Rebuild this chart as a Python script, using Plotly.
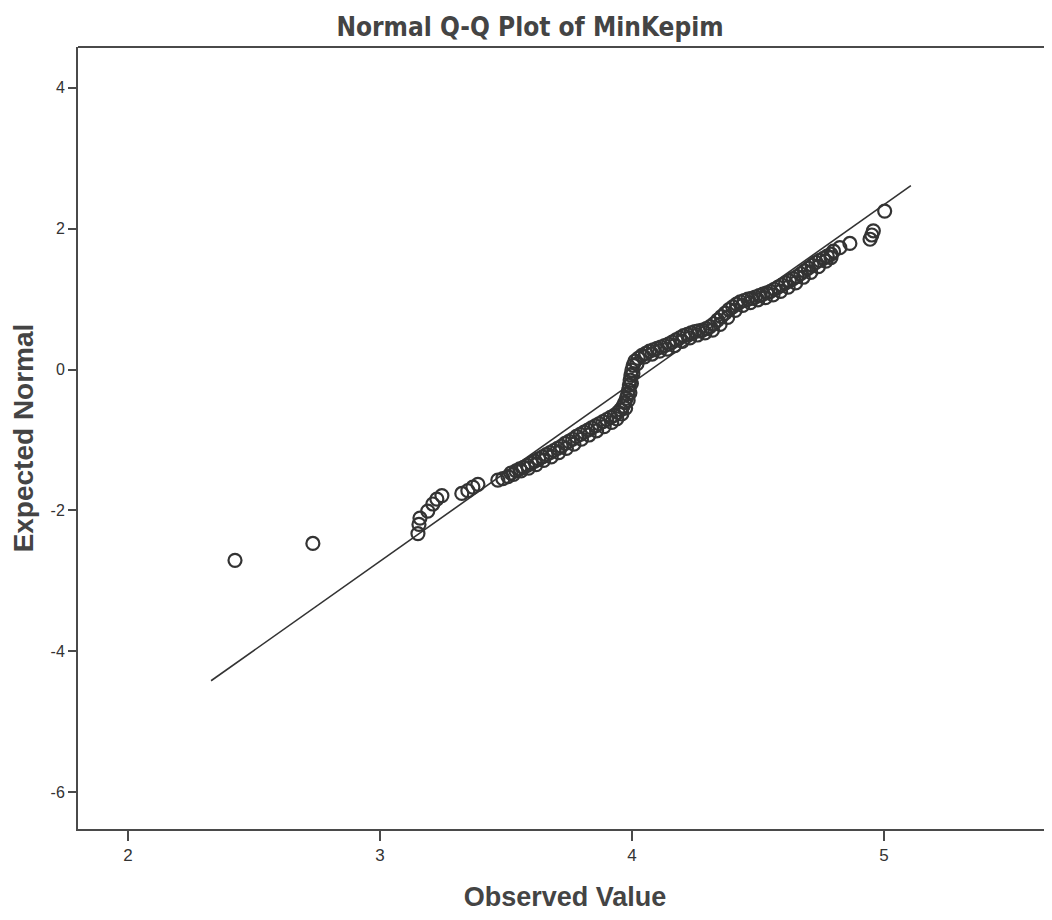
import plotly.graph_objects as go

observed = [
    2.425, 2.734,
    3.151, 3.155, 3.159, 3.190, 3.210, 3.226, 3.246,
    3.325, 3.349, 3.369, 3.389,
    3.468, 3.488, 3.508,
    3.520, 3.540, 3.555, 3.570, 3.585, 3.600, 3.615, 3.630, 3.645, 3.660,
    3.675, 3.690, 3.705, 3.720, 3.735, 3.750, 3.765, 3.780, 3.795, 3.810,
    3.825, 3.840, 3.855, 3.870, 3.885, 3.900, 3.915, 3.930, 3.945,
    3.955, 3.965, 3.972, 3.978, 3.983, 3.987, 3.990, 3.993, 3.996, 4.000,
    4.005, 4.012,
    4.025, 4.040, 4.055, 4.070, 4.085, 4.100, 4.115, 4.130, 4.145, 4.160,
    4.175, 4.190, 4.205, 4.220, 4.235, 4.250, 4.265, 4.280, 4.295,
    4.310, 4.325, 4.340, 4.355, 4.370, 4.385, 4.400, 4.415, 4.430, 4.445,
    4.460, 4.475, 4.490, 4.505, 4.520,
    4.535, 4.550, 4.565, 4.580, 4.595, 4.610, 4.625, 4.640, 4.655, 4.670,
    4.685, 4.700, 4.715, 4.730, 4.745, 4.760, 4.775, 4.790, 4.800, 4.825,
    4.865, 4.945, 4.952, 4.958, 5.003,
    3.530, 3.560, 3.590, 3.620, 3.650, 3.680, 3.710, 3.740, 3.770, 3.800,
    3.830, 3.860, 3.890, 3.920, 3.940, 3.960, 3.975, 3.985, 3.992, 3.998,
    4.004, 4.020, 4.050, 4.080, 4.110, 4.140, 4.170, 4.200, 4.230, 4.260,
    4.290, 4.320, 4.350, 4.380, 4.410, 4.440, 4.470, 4.500, 4.530, 4.560,
    4.590, 4.620, 4.650, 4.680, 4.710, 4.740, 4.770, 4.790,
]
expected = [
    -2.71, -2.47,
    -2.33, -2.20, -2.11, -2.01, -1.91, -1.84, -1.79,
    -1.76, -1.72, -1.67, -1.63,
    -1.57, -1.55, -1.52,
    -1.47, -1.44, -1.41, -1.39, -1.36, -1.33, -1.30, -1.27, -1.24, -1.21,
    -1.18, -1.15, -1.12, -1.09, -1.05, -1.02, -0.99, -0.95, -0.92, -0.89,
    -0.86, -0.83, -0.80, -0.77, -0.74, -0.71, -0.68, -0.65, -0.61,
    -0.57, -0.52, -0.47, -0.41, -0.35, -0.29, -0.22, -0.15, -0.08, -0.01,
    0.06, 0.12,
    0.16, 0.20, 0.23, 0.26, 0.28, 0.30, 0.32, 0.34, 0.36, 0.39,
    0.42, 0.45, 0.48, 0.50, 0.52, 0.54, 0.55, 0.56, 0.58,
    0.61, 0.65, 0.70, 0.75, 0.80, 0.85, 0.89, 0.93, 0.96, 0.98,
    1.00, 1.01, 1.03, 1.05, 1.07,
    1.09, 1.11, 1.14, 1.17, 1.20, 1.23, 1.26, 1.29, 1.32, 1.36,
    1.40, 1.44, 1.48, 1.52, 1.55, 1.58, 1.61, 1.64, 1.68, 1.73,
    1.79, 1.85, 1.91, 1.97, 2.25,
    -1.49, -1.44, -1.40, -1.35, -1.29, -1.24, -1.18, -1.12, -1.06, -0.99,
    -0.93, -0.87, -0.81, -0.75, -0.70, -0.63, -0.55, -0.44, -0.33, -0.20,
    -0.06, 0.08, 0.18, 0.22, 0.26, 0.29, 0.34, 0.40, 0.45, 0.49,
    0.52, 0.56, 0.64, 0.74, 0.84, 0.91, 0.95, 0.99, 1.02, 1.06,
    1.11, 1.17, 1.23, 1.31, 1.38, 1.46, 1.54, 1.59,
]

# Reference (fit) line end points
line_x = [2.33, 5.107]
line_y = [-4.42, 2.61]

x_ticks = [2, 3, 4, 5]
y_ticks = [4, 2, 0, -2, -4, -6]

AXIS_COLOR = "#4a4a4a"
TEXT_COLOR = "#444444"

fig = go.Figure()
fig.add_trace(go.Scatter(
    x=line_x, y=line_y, mode="lines",
    line=dict(color="#333333", width=1.6),
    showlegend=False, hoverinfo="skip",
))
fig.add_trace(go.Scatter(
    x=observed, y=expected, mode="markers",
    marker=dict(symbol="circle-open", size=13, color="#333333",
                line=dict(width=2.2, color="#333333")),
    showlegend=False,
))

fig.update_layout(
    width=1044, height=904,
    margin=dict(l=70, r=0, t=39, b=83),
    paper_bgcolor="white", plot_bgcolor="white",
    title=dict(
        text="Normal Q-Q Plot of MinKepim",
        x=0.5, xref="container", xanchor="center",
        y=1 - 19 / 904, yref="container", yanchor="middle",
        font=dict(family="Liberation Sans Narrow, DejaVu Sans Condensed, Arial", size=26,
                  color=TEXT_COLOR, weight="bold"),
    ),
    xaxis=dict(
        range=[1.802, 5.667], tickvals=x_ticks, ticktext=[str(v) for v in x_ticks],
        showgrid=False, zeroline=False, showline=True, linecolor=AXIS_COLOR, linewidth=2,
        ticks="outside", ticklen=10, tickwidth=1.5, tickcolor=AXIS_COLOR,
        tickfont=dict(family="Liberation Sans Narrow, Arial", size=17, color="#333333"),
        title=dict(text="Observed Value", standoff=24,
                   font=dict(family="Liberation Sans Narrow, Arial", size=27,
                             color=TEXT_COLOR, weight="bold")),
    ),
    yaxis=dict(
        range=[-6.525, 4.58], tickvals=y_ticks, ticktext=[str(v) for v in y_ticks],
        showgrid=False, zeroline=False, showline=True, linecolor=AXIS_COLOR, linewidth=2,
        ticks="outside", ticklen=8, tickwidth=1.5, tickcolor=AXIS_COLOR,
        tickfont=dict(family="Liberation Sans, Arial", size=16, color="#333333"),
        title=dict(text="Expected Normal", standoff=20,
                   font=dict(family="Liberation Sans, Arial", size=28,
                             color=TEXT_COLOR, weight="bold")),
    ),
    shapes=[dict(type="line", xref="paper", yref="paper", x0=0, x1=1, y0=1, y1=1,
                 line=dict(color=AXIS_COLOR, width=2))],
)

fig.write_html("out.html")
